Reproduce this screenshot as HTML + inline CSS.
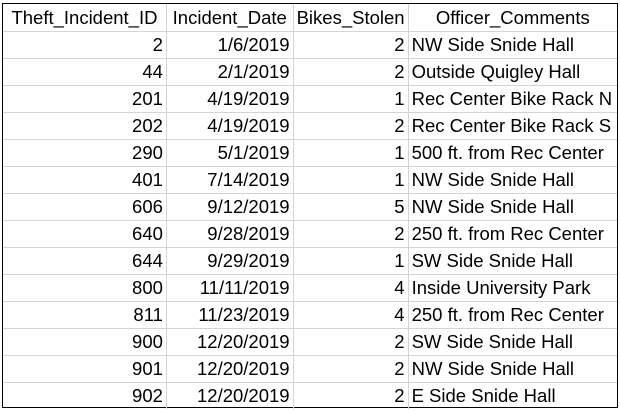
<!DOCTYPE html>
<html><head><meta charset="utf-8"><style>
html,body{margin:0;padding:0;background:#fff;width:620px;height:413px;overflow:hidden}
#sheet{position:absolute;left:2px;top:3px;width:616px;height:405px;border:1px solid #000;box-sizing:border-box}
table{border-collapse:collapse;table-layout:fixed;font-family:"Liberation Sans",sans-serif;font-size:18.5px;color:#000}
td{border:1px solid #d4d4d4;padding:0 3px;white-space:nowrap;overflow:hidden;height:26px;line-height:26px}
tr:first-child td{height:27px;text-align:center;border-top:none}
td:first-child{border-left:none}
td:last-child{border-right:none}
tr:last-child td{border-bottom:none}
.r{text-align:right}
</style></head><body>
<div id="sheet">
<table>
<colgroup><col style="width:164px"><col style="width:127px"><col style="width:114px"><col style="width:209px"></colgroup>
<tr><td>Theft_Incident_ID</td><td>Incident_Date</td><td>Bikes_Stolen</td><td>Officer_Comments</td></tr>
<tr><td class="r">2</td><td class="r">1/6/2019</td><td class="r">2</td><td>NW Side Snide Hall</td></tr>
<tr><td class="r">44</td><td class="r">2/1/2019</td><td class="r">2</td><td>Outside Quigley Hall</td></tr>
<tr><td class="r">201</td><td class="r">4/19/2019</td><td class="r">1</td><td>Rec Center Bike Rack N</td></tr>
<tr><td class="r">202</td><td class="r">4/19/2019</td><td class="r">2</td><td>Rec Center Bike Rack S</td></tr>
<tr><td class="r">290</td><td class="r">5/1/2019</td><td class="r">1</td><td>500 ft. from Rec Center</td></tr>
<tr><td class="r">401</td><td class="r">7/14/2019</td><td class="r">1</td><td>NW Side Snide Hall</td></tr>
<tr><td class="r">606</td><td class="r">9/12/2019</td><td class="r">5</td><td>NW Side Snide Hall</td></tr>
<tr><td class="r">640</td><td class="r">9/28/2019</td><td class="r">2</td><td>250 ft. from Rec Center</td></tr>
<tr><td class="r">644</td><td class="r">9/29/2019</td><td class="r">1</td><td>SW Side Snide Hall</td></tr>
<tr><td class="r">800</td><td class="r">11/11/2019</td><td class="r">4</td><td>Inside University Park</td></tr>
<tr><td class="r">811</td><td class="r">11/23/2019</td><td class="r">4</td><td>250 ft. from Rec Center</td></tr>
<tr><td class="r">900</td><td class="r">12/20/2019</td><td class="r">2</td><td>SW Side Snide Hall</td></tr>
<tr><td class="r">901</td><td class="r">12/20/2019</td><td class="r">2</td><td>NW Side Snide Hall</td></tr>
<tr><td class="r">902</td><td class="r">12/20/2019</td><td class="r">2</td><td>E Side Snide Hall</td></tr>
</table>
</div>
</body></html>
